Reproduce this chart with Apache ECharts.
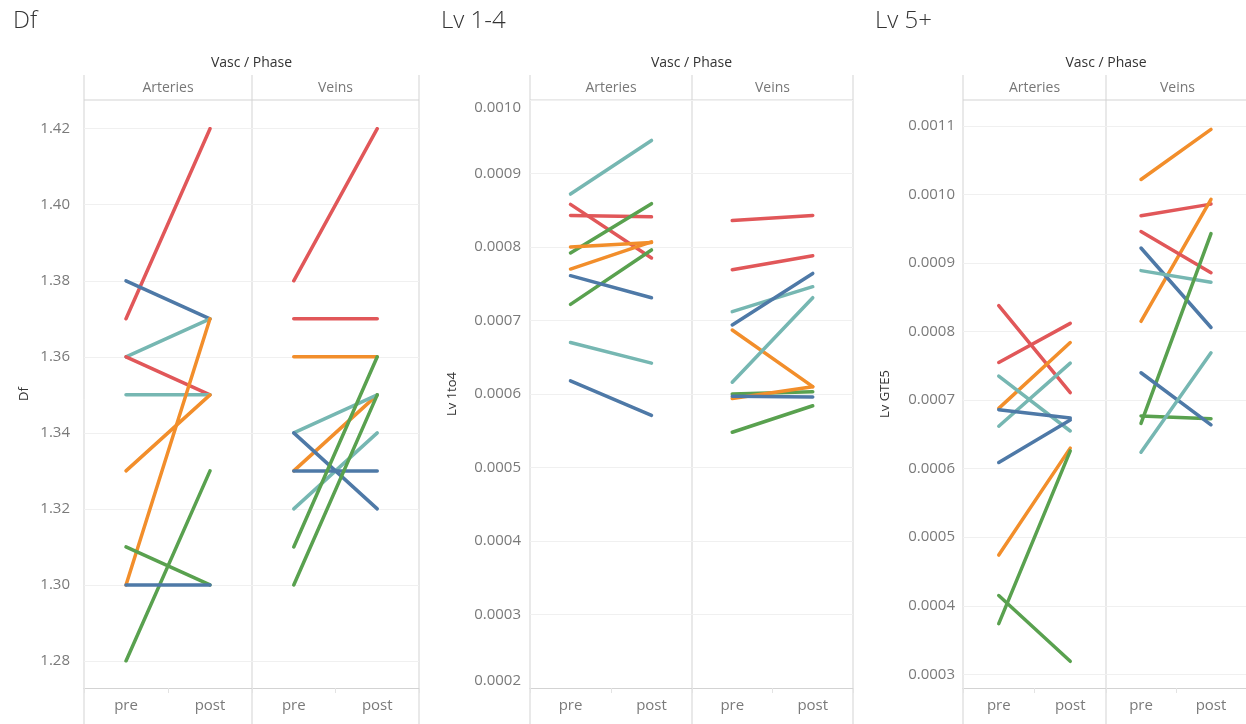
<!DOCTYPE html>
<html>
<head>
<meta charset="utf-8">
<title>Df / Lv 1-4 / Lv 5+ by vascular type and phase</title>
<script src="https://cdn.jsdelivr.net/npm/echarts@6/dist/echarts.min.js"></script>
<style>
  html, body { margin: 0; padding: 0; background: #fff; }
  #chart { width: 1246px; height: 724px; }
</style>
</head>
<body>
<div id="chart"></div>
<script>
// ---- data ----
const phases = ['pre', 'post'];
const vascGroups = ['Arteries', 'Veins'];

// Df
const dfArteriesColor = ['red', 'blue', 'teal', 'red', 'teal', 'orange', 'orange', 'green', 'green', 'blue'];
const dfArteriesPre   = [1.37, 1.38, 1.36, 1.36, 1.35, 1.30, 1.33, 1.31, 1.28, 1.30];
const dfArteriesPost  = [1.42, 1.37, 1.37, 1.35, 1.35, 1.37, 1.35, 1.30, 1.33, 1.30];
const dfVeinsColor = ['red', 'red', 'orange', 'orange', 'teal', 'teal', 'blue', 'blue', 'green', 'green'];
const dfVeinsPre   = [1.38, 1.37, 1.36, 1.33, 1.34, 1.32, 1.34, 1.33, 1.31, 1.30];
const dfVeinsPost  = [1.42, 1.37, 1.36, 1.35, 1.35, 1.34, 1.32, 1.33, 1.36, 1.35];

// Lv 1-4
const lv14ArteriesColor = ['teal', 'red', 'red', 'green', 'orange', 'orange', 'green', 'blue', 'teal', 'blue'];
const lv14ArteriesPre   = [0.000872, 0.000858, 0.000843, 0.000792, 0.000800, 0.000770, 0.000722, 0.000761, 0.000670, 0.000618];
const lv14ArteriesPost  = [0.000945, 0.000785, 0.000841, 0.000859, 0.000806, 0.000807, 0.000796, 0.000731, 0.000642, 0.000571];
const lv14VeinsColor = ['red', 'red', 'teal', 'blue', 'orange', 'teal', 'green', 'orange', 'blue', 'green'];
const lv14VeinsPre   = [0.000836, 0.000769, 0.000712, 0.000694, 0.000687, 0.000616, 0.000600, 0.000594, 0.000597, 0.000548];
const lv14VeinsPost  = [0.000843, 0.000788, 0.000746, 0.000764, 0.000610, 0.000731, 0.000603, 0.000610, 0.000596, 0.000584];

// Lv 5+
const lv5ArteriesColor = ['red', 'red', 'orange', 'teal', 'teal', 'blue', 'blue', 'orange', 'green', 'green'];
const lv5ArteriesPre   = [0.000838, 0.000755, 0.000688, 0.000735, 0.000662, 0.000686, 0.000609, 0.000474, 0.000374, 0.000415];
const lv5ArteriesPost  = [0.000711, 0.000812, 0.000784, 0.000655, 0.000754, 0.000674, 0.000671, 0.000630, 0.000626, 0.000319];
const lv5VeinsColor = ['orange', 'red', 'orange', 'red', 'blue', 'teal', 'green', 'green', 'blue', 'teal'];
const lv5VeinsPre   = [0.001022, 0.000969, 0.000815, 0.000946, 0.000922, 0.000889, 0.000666, 0.000677, 0.000740, 0.000624];
const lv5VeinsPost  = [0.001095, 0.000986, 0.000993, 0.000886, 0.000806, 0.000872, 0.000943, 0.000673, 0.000664, 0.000769];

// ---- styling ----
const palette = { blue: '#4e79a7', orange: '#f28e2b', red: '#e15759', teal: '#76b7b2', green: '#59a14f' };
const FONT = '"Open Sans", "Noto Sans", sans-serif';
const frameColor = '#d3d3d3';
const gridLineColor = '#f0f0f0';
const plotTop = 100, plotBottom = 688, headerTop = 75, pageBottom = 724;

// panel layout: left edge of the plot, width of each facet, and where the value range sits
const panels = [
  { title: 'Df', yName: 'Df', titleX: 8, nameX: 24, left: 84, facetW: [168, 167],
    min: 1.28, max: 1.42, interval: 0.02, decimals: 2, top: 128.7, bottom: 661, labelMargin: 14,
    facets: [[dfArteriesColor, dfArteriesPre, dfArteriesPost], [dfVeinsColor, dfVeinsPre, dfVeinsPost]] },
  { title: 'Lv 1-4', yName: 'Lv 1to4', titleX: 436, nameX: 452, left: 530, facetW: [162, 161],
    min: 0.0002, max: 0.0010, interval: 0.0001, decimals: 4, top: 100, bottom: 688, labelMargin: 9, edgeLabels: true,
    facets: [[lv14ArteriesColor, lv14ArteriesPre, lv14ArteriesPost], [lv14VeinsColor, lv14VeinsPre, lv14VeinsPost]] },
  { title: 'Lv 5+', yName: 'Lv GTE5', titleX: 870, nameX: 885, left: 963, facetW: [143, 143],
    min: 0.0003, max: 0.0011, interval: 0.0001, decimals: 4, top: 126, bottom: 674.3, labelMargin: 8,
    facets: [[lv5ArteriesColor, lv5ArteriesPre, lv5ArteriesPost], [lv5VeinsColor, lv5VeinsPre, lv5VeinsPost]] }
];

const grids = [], xAxes = [], yAxes = [], series = [], titles = [], graphics = [];

panels.forEach(function (p) {
  const right = p.left + p.facetW[0] + p.facetW[1];
  const divider = p.left + p.facetW[0];

  titles.push({
    text: p.title, left: p.titleX, top: 4,
    textStyle: { fontFamily: FONT, fontSize: 24, fontWeight: 300, color: '#333' }
  });

  // facet frame
  [p.left, divider, right].forEach(function (x) {
    graphics.push({ type: 'line', silent: true, shape: { x1: x, y1: headerTop, x2: x, y2: pageBottom },
      style: { stroke: frameColor, lineWidth: 1 } });
  });
  graphics.push({ type: 'line', silent: true, shape: { x1: p.left, y1: plotTop, x2: right, y2: plotTop },
    style: { stroke: frameColor, lineWidth: 1 } });

  // column header
  graphics.push({ type: 'text', silent: true, x: (p.left + right) / 2, y: 63,
    style: { text: 'Vasc / Phase', fontFamily: FONT, fontSize: 14, fill: '#333', align: 'center', verticalAlign: 'middle' } });
  vascGroups.forEach(function (g, i) {
    const x0 = i === 0 ? p.left : divider;
    graphics.push({ type: 'text', silent: true, x: x0 + p.facetW[i] / 2, y: 88,
      style: { text: g, fontFamily: FONT, fontSize: 14, fill: '#777', align: 'center', verticalAlign: 'middle' } });
  });

  // y axis title
  graphics.push({ type: 'text', silent: true, x: p.nameX, y: (plotTop + plotBottom) / 2, rotation: Math.PI / 2,
    style: { text: p.yName, fontFamily: FONT, fontSize: 13, fill: '#333', align: 'center', verticalAlign: 'middle' } });

  p.facets.forEach(function (f, i) {
    const gi = grids.length;
    const x0 = i === 0 ? p.left : divider;
    grids.push({ left: x0, width: p.facetW[i], top: p.top, height: p.bottom - p.top, containLabel: false });

    xAxes.push({
      type: 'category', gridIndex: gi, data: phases, boundaryGap: true,
      offset: plotBottom - p.bottom,
      axisLine: { show: true, lineStyle: { color: frameColor, width: 1 } },
      axisTick: { show: true, length: 5, lineStyle: { color: '#e3e3e3' } },
      axisLabel: { margin: 10, fontFamily: FONT, fontSize: 15, color: '#7a7a7a' },
      splitLine: { show: false }
    });

    yAxes.push({
      type: 'value', gridIndex: gi, min: p.min, max: p.max, interval: p.interval,
      axisLine: { show: false }, axisTick: { show: false },
      axisLabel: {
        show: i === 0, margin: p.labelMargin, fontFamily: FONT, fontSize: 15, color: '#7a7a7a',
        formatter: function (v) { return v.toFixed(p.decimals); },
        verticalAlignMinLabel: p.edgeLabels ? 'bottom' : null,
        verticalAlignMaxLabel: p.edgeLabels ? 'top' : null
      },
      splitLine: { show: true, lineStyle: { color: gridLineColor, width: 1 } }
    });

    const colors = f[0], pre = f[1], post = f[2];
    colors.forEach(function (c, k) {
      series.push({
        type: 'line', xAxisIndex: gi, yAxisIndex: gi,
        data: [pre[k], post[k]],
        symbol: 'none', silent: true, animation: false,
        lineStyle: { color: palette[c], width: 3.5, cap: 'round' },
        z: 3
      });
    });
  });
});

const chart = echarts.init(document.getElementById('chart'), null, { renderer: 'canvas' });
chart.setOption({
  backgroundColor: '#fff',
  animation: false,
  title: titles,
  grid: grids,
  xAxis: xAxes,
  yAxis: yAxes,
  series: series,
  graphic: graphics
});
</script>
</body>
</html>
